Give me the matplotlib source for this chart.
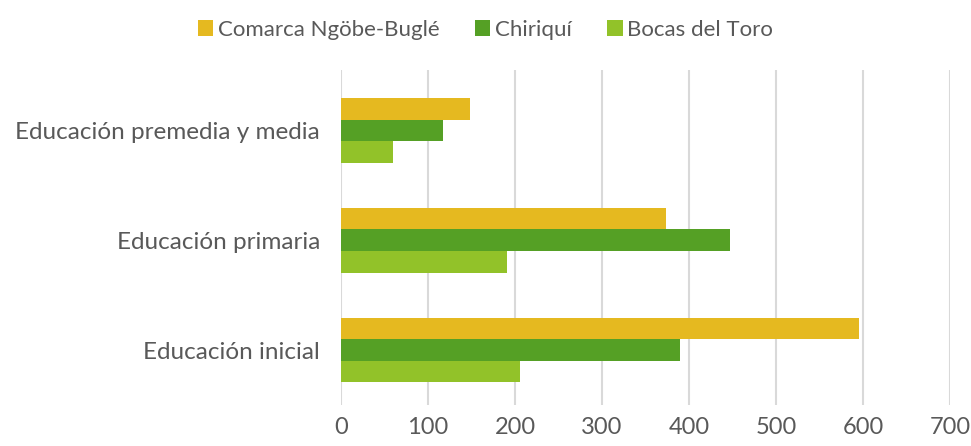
import matplotlib.pyplot as plt
import numpy as np

# data
categorias = ["Educación inicial", "Educación primaria", "Educación premedia y media"]
series = ["Comarca Ngöbe-Buglé", "Chiriquí", "Bocas del Toro"]
comarca = [595, 373, 148]
chiriqui = [390, 447, 117]
bocas = [206, 191, 60]
colores = ["#E5B920", "#55A025", "#92C229"]

plt.rcParams['font.family'] = ['Lato', 'DejaVu Sans']
gris = "#595959"

fig = plt.figure(figsize=(9.71, 4.46), dpi=100)
ax = fig.add_axes([341/971, 1-405/446, (950-341)/971, (405-70)/446])

y = np.arange(len(categorias))
h = 0.196
valores = [comarca, chiriqui, bocas]
for i, (nombre, vals, c) in enumerate(zip(series, valores, colores)):
    ax.barh(y + (1 - i) * h, vals, height=h, color=c, label=nombre, zorder=3)

ax.set_xlim(0, 700)
ax.set_ylim(-0.5, 2.55)
ax.set_xticks(range(0, 701, 100))
ax.set_yticks(y)
ax.set_yticklabels(categorias)
ax.tick_params(axis='x', length=0, labelsize=17, colors=gris, pad=9)
ax.tick_params(axis='y', length=0, labelsize=17.5, colors=gris, pad=15)
ax.grid(axis='x', color='#D9D9D9', linewidth=1.5, zorder=0)
for s in ax.spines.values():
    s.set_visible(False)

leg = fig.legend(loc='upper center', bbox_to_anchor=(0.5, 1.0), ncol=3, frameon=False,
                 fontsize=16, handlelength=0.7, handleheight=0.7, handletextpad=0.2,
                 columnspacing=1.6)
for t in leg.get_texts():
    t.set_color(gris)

fig.savefig('out.png', dpi=100)
